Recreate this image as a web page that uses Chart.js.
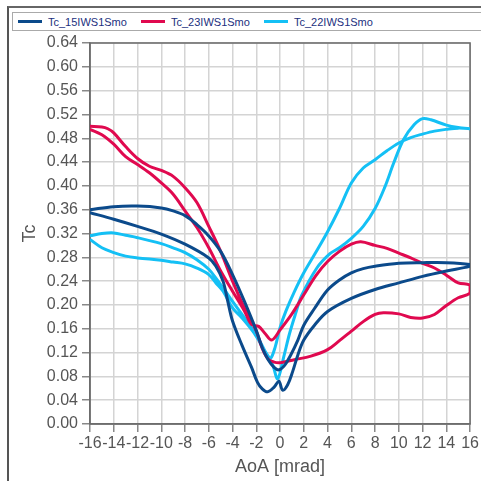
<!DOCTYPE html>
<html>
<head>
<meta charset="utf-8">
<script src="https://cdn.jsdelivr.net/npm/chart.js@4.4.0/dist/chart.umd.min.js"></script>
<style>
  body { margin: 0; background: #fff; font-family: 'Liberation Sans', Arial, sans-serif; }
  #wrap { position: relative; width: 481px; height: 481px; overflow: hidden; }
  #frame { position: absolute; left: 7px; top: 6px; width: 520px; height: 520px; border-left: 2px solid #555; border-top: 2px solid #666; }
  #legend { position: absolute; left: 12px; top: 12px; width: 520px; height: 17px; border: 1px solid #aaa; background: #fff; font-size: 11px; color: #22307e; }
  .item { position: absolute; top: 0; height: 17px; display: flex; align-items: center; }
  .swatch { width: 24px; height: 3px; margin-right: 6px; }
  canvas { position: absolute; left: 0; top: 0; }
</style>
</head>
<body>
<div id="wrap">
  <div id="frame"></div>
  <canvas id="chart" width="481" height="481"></canvas>
  <div id="legend"></div>
</div>
<script>
// series names and colours
const names = ['Tc_15IWS1Smo', 'Tc_23IWS1Smo', 'Tc_22IWS1Smo'];
const colors = ['#0b4a8b', '#e0094f', '#14c0f5'];

// axis ticks
const xTickLabels = ['-16', '-14', '-12', '-10', '-8', '-6', '-4', '-2', '0', '2', '4', '6', '8', '10', '12', '14', '16'];
const yTickLabels = ['0.00', '0.04', '0.08', '0.12', '0.16', '0.20', '0.24', '0.28', '0.32', '0.36', '0.40', '0.44', '0.48', '0.52', '0.56', '0.60', '0.64'];

// Tc_15IWS1Smo : loop -16 -> 16 -> -16
const aoa15 = [-16, -14, -12, -10, -9, -8, -7, -6, -5, -4, -3, -2, -1.5, -1, -0.5, -0.1,
  0.4, 0.9, 1.5, 2, 2.9, 4, 5, 6, 7, 8, 10, 12, 14, 16,
  16, 14, 12, 10, 8, 6, 4, 2.9, 2, 1.5, 1.06, 0.64, 0.22,
  -0.1, -0.5, -1.05, -1.5, -1.9, -2.4, -3.2, -4, -4.4, -4.8, -5.4, -6, -8, -10, -12, -14, -16];
const tc15 = [0.360, 0.365, 0.366, 0.363, 0.358, 0.350, 0.335, 0.316, 0.290, 0.251, 0.206, 0.157, 0.128, 0.108, 0.095, 0.091,
  0.099, 0.116, 0.141, 0.166, 0.194, 0.225, 0.242, 0.254, 0.261, 0.265, 0.270, 0.271, 0.271, 0.268,
  0.265, 0.257, 0.248, 0.237, 0.226, 0.211, 0.189, 0.166, 0.141, 0.116, 0.088, 0.066, 0.057,
  0.072, 0.062, 0.054, 0.059, 0.070, 0.095, 0.132, 0.173, 0.206, 0.240, 0.265, 0.279, 0.302, 0.319, 0.332, 0.344, 0.355];

// Tc_23IWS1Smo
const aoa23 = [-16, -15, -14.5, -14, -13, -12, -11, -10, -9, -8, -7, -6, -5, -4, -3, -2, -1.5, -1, -0.5,
  0, 1.2, 2.6, 4, 5, 6, 7, 8, 8.7, 10, 11, 12, 13, 14, 15, 16,
  16, 15, 14, 13, 12, 11, 10, 9, 8, 6.8, 6, 5, 4, 3, 2, 1, 0, -0.7, -1.3, -1.8,
  -2.4, -3, -4, -5, -6, -7, -8, -9, -10, -11, -12, -13, -14, -15, -16];
const tc23 = [0.500, 0.499, 0.496, 0.489, 0.466, 0.446, 0.433, 0.426, 0.416, 0.397, 0.372, 0.332, 0.290, 0.240, 0.195, 0.156, 0.127, 0.109, 0.104,
  0.103, 0.108, 0.114, 0.125, 0.140, 0.156, 0.172, 0.184, 0.187, 0.185, 0.179, 0.178, 0.184, 0.199, 0.212, 0.220,
  0.233, 0.237, 0.250, 0.262, 0.270, 0.279, 0.287, 0.295, 0.300, 0.306, 0.302, 0.290, 0.273, 0.249, 0.217, 0.185, 0.158, 0.141, 0.153, 0.164,
  0.167, 0.190, 0.223, 0.257, 0.296, 0.330, 0.358, 0.386, 0.405, 0.422, 0.436, 0.449, 0.470, 0.486, 0.495];

// Tc_22IWS1Smo
const aoa22 = [-16, -15, -14, -13, -12, -10, -9, -8, -7, -6, -5.4, -4.6, -4, -3.2, -2, -1.2, -0.6, -0.2,
  0.3, 0.8, 1.3, 1.8, 3.1, 4.2, 5, 6, 7, 8, 8.8, 9.6, 10.4, 11.3, 12, 12.7, 14, 15, 16,
  15, 14, 13, 12, 11, 10, 9, 8, 7, 6, 5, 4, 3, 2, 1.2, 0.5, 0, -0.4, -0.8,
  -1.1, -1.6, -2.3, -3.2, -4, -4.8, -5.4, -6, -7, -8, -9, -10, -12, -13, -14, -15, -16];
const tc22 = [0.316, 0.320, 0.321, 0.317, 0.313, 0.303, 0.296, 0.288, 0.276, 0.260, 0.245, 0.223, 0.206, 0.184, 0.150, 0.120, 0.098, 0.076,
  0.112, 0.152, 0.185, 0.215, 0.262, 0.286, 0.296, 0.312, 0.332, 0.362, 0.397, 0.440, 0.478, 0.503, 0.513, 0.511, 0.502, 0.498, 0.496,
  0.497, 0.495, 0.492, 0.487, 0.481, 0.472, 0.459, 0.444, 0.430, 0.405, 0.362, 0.323, 0.288, 0.254, 0.222, 0.190, 0.162, 0.130, 0.110,
  0.117, 0.134, 0.156, 0.178, 0.195, 0.223, 0.237, 0.251, 0.262, 0.269, 0.272, 0.275, 0.279, 0.282, 0.288, 0.296, 0.310];

const xs = [aoa15, aoa23, aoa22];
const ys = [tc15, tc23, tc22];

// html legend
const legendEl = document.getElementById('legend');
names.forEach((name, i) => {
  const item = document.createElement('div');
  item.className = 'item';
  item.style.left = (5 + i * 123) + 'px';
  item.innerHTML = `<span class="swatch" style="background:${colors[i]}"></span><span>${name}</span>`;
  legendEl.appendChild(item);
});

const plotBorder = {
  id: 'plotBorder',
  beforeDatasetsDraw(c) {
    const a = c.chartArea;
    const g = c.ctx;
    g.save();
    g.strokeStyle = '#6a6a6a';
    g.lineWidth = 1.5;
    g.strokeRect(a.left, a.top, a.right - a.left, a.bottom - a.top);
    g.restore();
  }
};

Chart.defaults.font.family = "'Liberation Sans', Arial, sans-serif";

const ctx = document.getElementById('chart').getContext('2d');
const chart = new Chart(ctx, {
  type: 'scatter',
  data: {
    datasets: names.map((name, i) => ({
      label: name,
      data: xs[i].map((x, j) => ({ x: x, y: ys[i][j] })),
      showLine: true,
      borderColor: colors[i],
      backgroundColor: colors[i],
      borderWidth: 3,
      pointRadius: 0,
      tension: 0.35,
      fill: false
    }))
  },
  options: {
    responsive: false,
    animation: false,
    layout: { padding: { top: 43, right: 9, left: 0, bottom: 0 } },
    plugins: { legend: { display: false }, tooltip: { enabled: false } },
    scales: {
      x: {
        type: 'linear',
        min: -16,
        max: 16,
        afterBuildTicks: s => { s.ticks = xTickLabels.map(t => ({ value: Number(t) })); },
        afterFit: s => { s.height = 57; },
        ticks: {
          autoSkip: false, maxRotation: 0, color: '#555', font: { size: 16 }, padding: 2,
          callback: (v, i) => xTickLabels[i]
        },
        grid: { color: '#d4d4d4', lineWidth: 1.5, tickLength: 8, tickColor: '#888' },
        border: { color: '#777', width: 1.5 },
        title: { display: true, text: 'AoA [mrad]', color: '#555', font: { size: 18 }, padding: { top: 0, bottom: 3 } }
      },
      y: {
        min: 0,
        max: 0.64,
        afterBuildTicks: s => { s.ticks = yTickLabels.map(t => ({ value: parseFloat(t) })); },
        afterFit: s => { s.width = 90; },
        ticks: {
          color: '#555', font: { size: 16 }, padding: 4,
          callback: (v, i) => yTickLabels[i]
        },
        grid: { color: '#d4d4d4', lineWidth: 1.5, tickLength: 8, tickColor: '#888' },
        border: { color: '#777', width: 1.5 },
        title: { display: true, text: 'Tc', color: '#555', font: { size: 18 }, padding: { top: 19, bottom: 0 } }
      }
    }
  },
  plugins: [plotBorder]
});
</script>
</body>
</html>
